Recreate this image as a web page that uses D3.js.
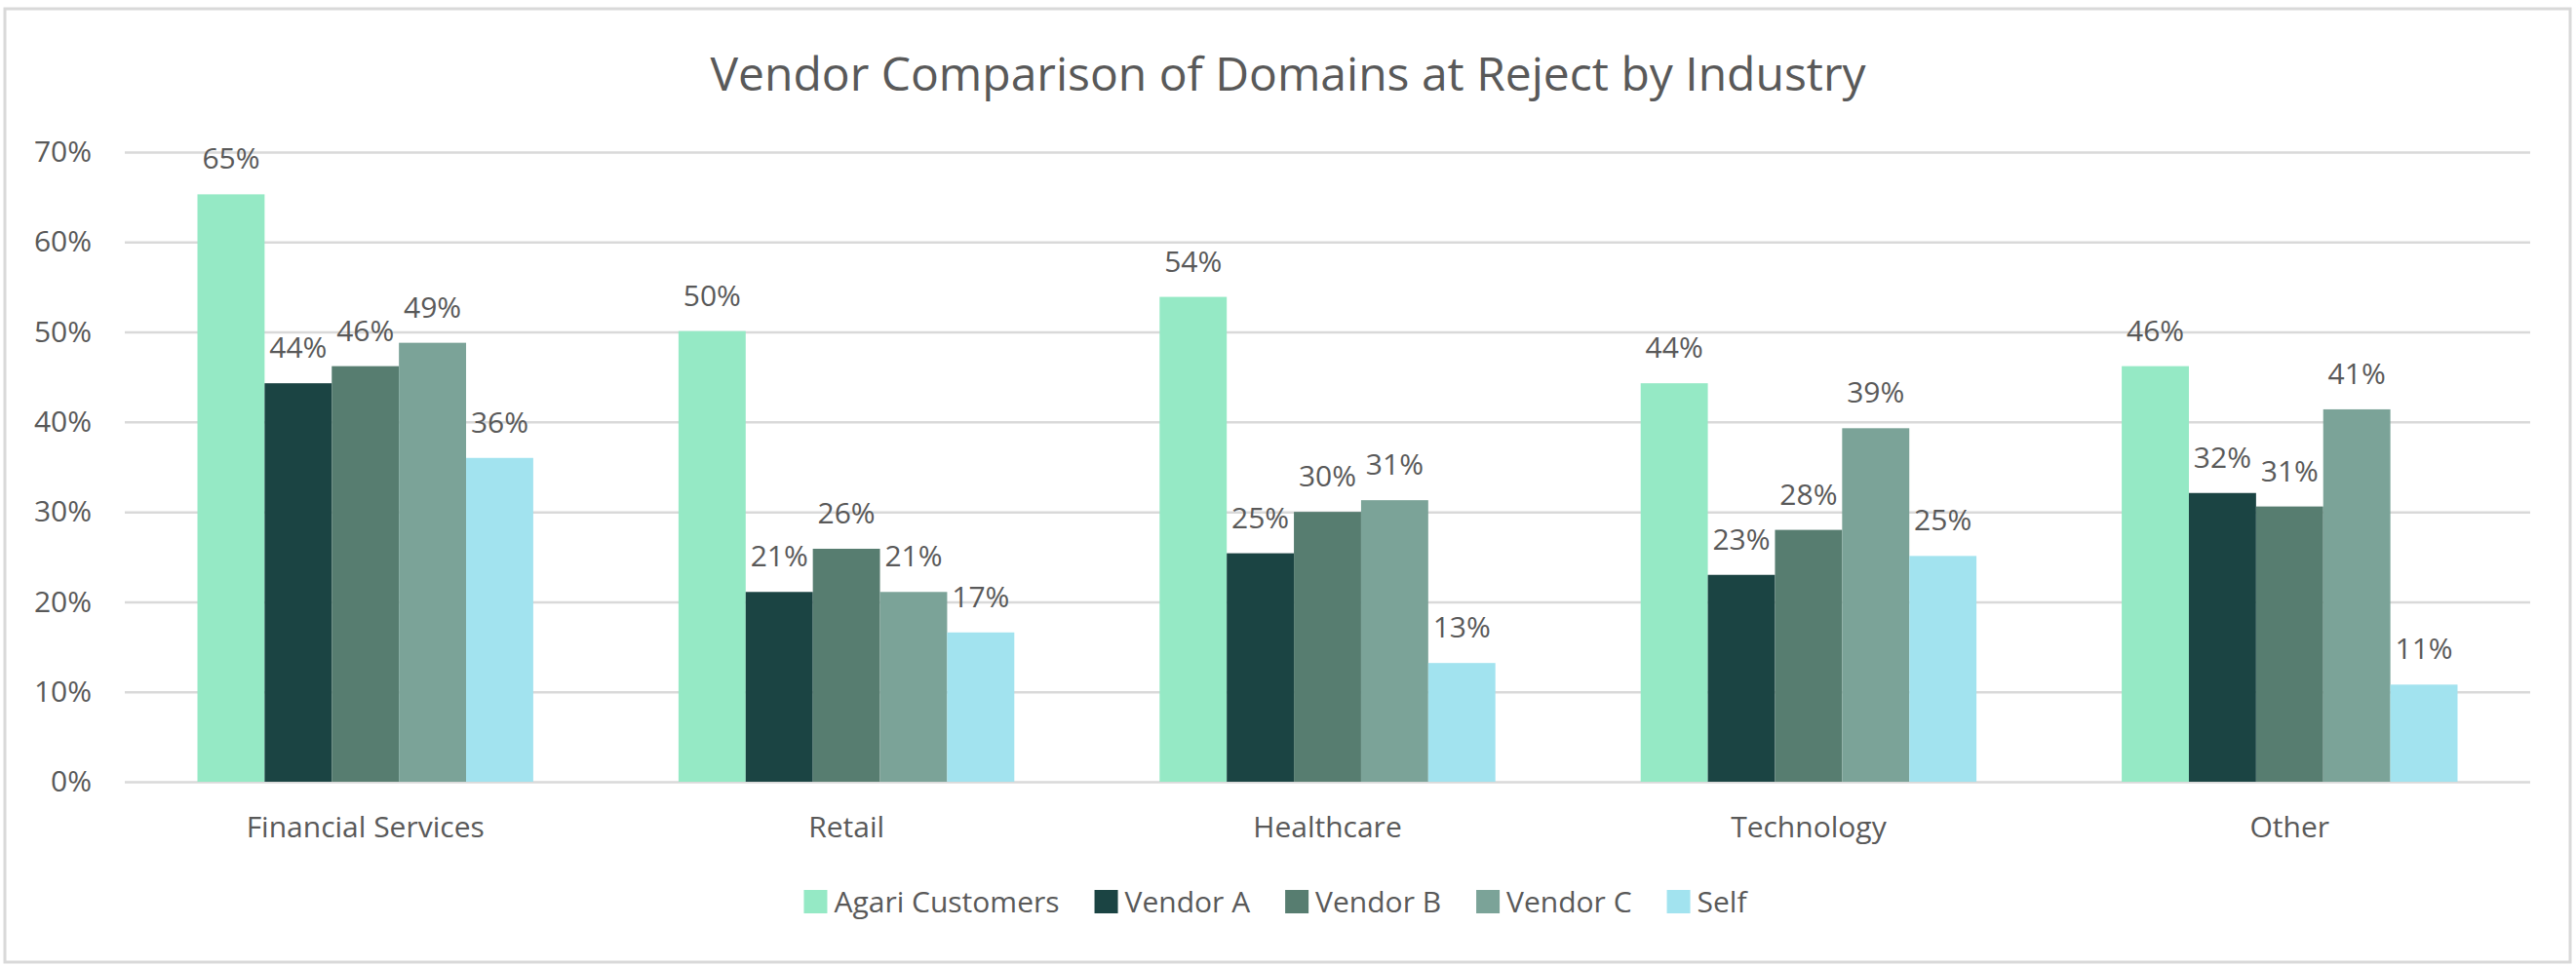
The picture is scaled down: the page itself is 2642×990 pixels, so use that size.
<!DOCTYPE html>
<html>
<head>
<meta charset="utf-8">
<script src="https://cdn.jsdelivr.net/npm/d3@7"></script>
<style>
  html, body { margin: 0; padding: 0; background: #fff; }
  svg text { font-family: "Open Sans", sans-serif; fill: #595959; }
</style>
</head>
<body>
<svg id="chart" width="2642" height="990"></svg>
<script>
const title = "Vendor Comparison of Domains at Reject by Industry";
const categories = ["Financial Services", "Retail", "Healthcare", "Technology", "Other"];
const seriesNames = ["Agari Customers", "Vendor A", "Vendor B", "Vendor C", "Self"];
const seriesColors = ["#95e9c5", "#1b4443", "#577d70", "#7ba398", "#a2e3ef"];
const agariCustomers = [0.653, 0.501, 0.539, 0.443, 0.462];
const vendorA = [0.443, 0.211, 0.254, 0.230, 0.321];
const vendorB = [0.462, 0.259, 0.300, 0.280, 0.306];
const vendorC = [0.488, 0.211, 0.313, 0.393, 0.414];
const self = [0.360, 0.166, 0.132, 0.251, 0.108];
const yTicks = [0, 0.1, 0.2, 0.3, 0.4, 0.5, 0.6, 0.7];

const seriesValues = [agariCustomers, vendorA, vendorB, vendorC, self];

const W = 2642, H = 990;
const plot = { left: 128, right: 2595, top: 156, bottom: 802 };
const svg = d3.select("#chart");

// chart border
svg.append("rect")
  .attr("x", 5).attr("y", 9)
  .attr("width", 2631).attr("height", 978)
  .attr("fill", "#fff")
  .attr("stroke", "#d9d9d9").attr("stroke-width", 3);

// title
svg.append("text")
  .attr("x", W / 2).attr("y", 93)
  .attr("text-anchor", "middle")
  .style("font-size", "48px")
  .text(title);

const x0 = d3.scaleBand()
  .domain(categories)
  .range([plot.left, plot.right])
  .paddingInner(0.302)
  .paddingOuter(0.151);

const x1 = d3.scaleBand()
  .domain(seriesNames)
  .range([0, x0.bandwidth()])
  .padding(0);

const y = d3.scaleLinear()
  .domain([0, 0.7])
  .range([plot.bottom, plot.top]);

// y axis with gridlines
const yAxis = svg.append("g")
  .attr("transform", `translate(${plot.left},0)`)
  .call(d3.axisLeft(y)
    .tickValues(yTicks)
    .tickFormat(d3.format(".0%"))
    .tickSize(-(plot.right - plot.left))
    .tickPadding(34));
yAxis.select(".domain").remove();
yAxis.selectAll(".tick line").attr("stroke", "#d9d9d9").attr("stroke-width", 2.5);
yAxis.selectAll(".tick text").style("font-size", "30px").attr("fill", "#595959");

// bars
const rows = categories.map((c, i) => ({
  category: c,
  values: seriesNames.map((s, j) => ({ series: s, color: seriesColors[j], value: seriesValues[j][i] }))
}));

const groups = svg.append("g").selectAll("g")
  .data(rows)
  .join("g")
  .attr("transform", d => `translate(${x0(d.category)},0)`);

groups.selectAll("rect")
  .data(d => d.values)
  .join("rect")
  .attr("x", d => x1(d.series))
  .attr("y", d => y(d.value))
  .attr("width", x1.bandwidth())
  .attr("height", d => y(0) - y(d.value))
  .attr("fill", d => d.color);

groups.selectAll("text.lbl")
  .data(d => d.values)
  .join("text")
  .attr("class", "lbl")
  .attr("x", d => x1(d.series) + x1.bandwidth() / 2)
  .attr("y", d => y(d.value) - 26)
  .attr("text-anchor", "middle")
  .style("font-size", "30px")
  .text(d => d3.format(".0%")(d.value));

// x axis
const xAxis = svg.append("g")
  .attr("transform", `translate(0,${plot.bottom})`)
  .call(d3.axisBottom(x0).tickSize(0).tickPadding(36));
xAxis.select(".domain").remove();
xAxis.selectAll(".tick text").style("font-size", "30px").attr("fill", "#595959");

// legend
const legend = svg.append("g");
const sq = 24, gapText = 7, gapItem = 36;
let cx = 0;
seriesNames.forEach((s, i) => {
  const g = legend.append("g");
  g.append("rect").attr("width", sq).attr("height", sq).attr("y", -sq / 2).attr("fill", seriesColors[i]);
  const t = g.append("text").attr("x", sq + gapText).attr("dy", "0.35em")
    .style("font-size", "30px").text(s);
  const w = sq + gapText + t.node().getComputedTextLength();
  g.attr("transform", `translate(${cx},0)`);
  cx += w + gapItem;
});
const legendWidth = cx - gapItem;
legend.attr("transform", `translate(${1308 - legendWidth / 2},925)`);
</script>
</body>
</html>
